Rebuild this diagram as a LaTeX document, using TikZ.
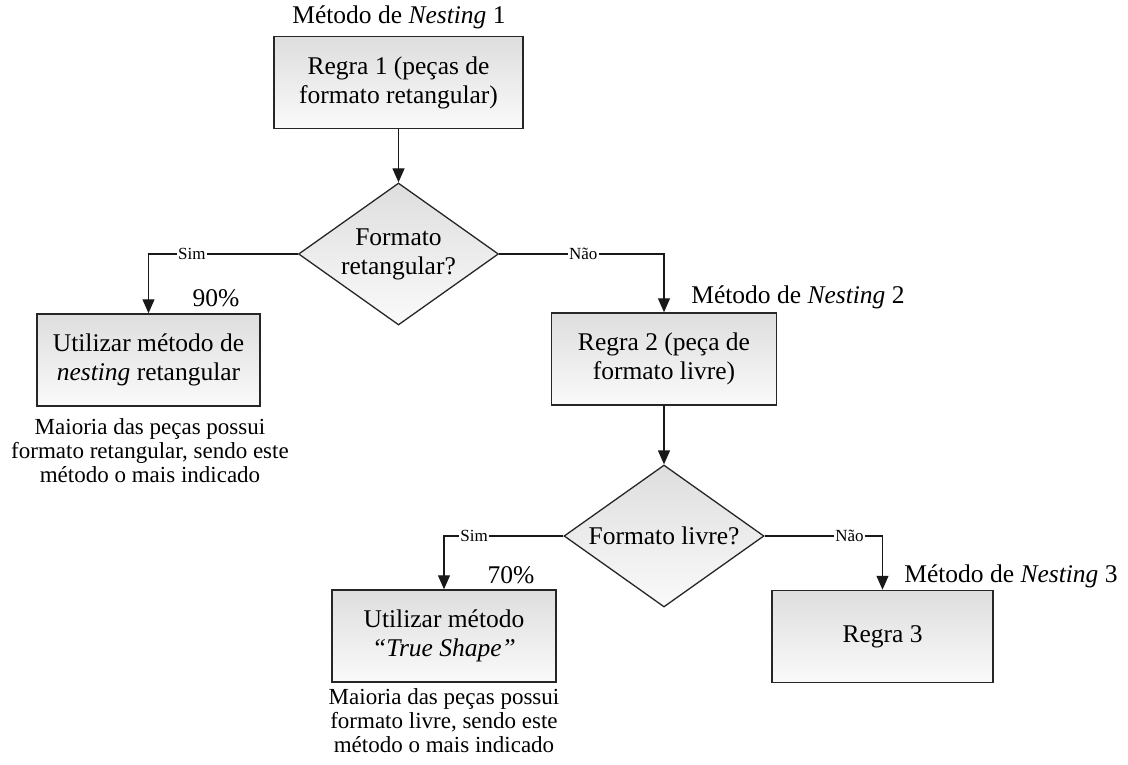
\documentclass[tikz,border=0pt]{standalone}
\usepackage{fontspec}
\setmainfont{Liberation Serif}
\usetikzlibrary{arrows.meta,shapes.geometric}
\begin{document}
\begin{tikzpicture}[x=1pt,y=-1pt,
  procbox/.style={draw=black!85, line width=1.5pt, top color=black!13, bottom color=black!2,
    minimum height=92pt, inner sep=0pt, align=center, font=\fontsize{25.5}{29}\selectfont},
  decision/.style={diamond, draw=black!85, line width=1.3pt, top color=black!13, bottom color=black!2,
    minimum width=200pt, minimum height=142pt, inner sep=0pt},
  dtext/.style={align=center, inner sep=0pt, font=\fontsize{25.5}{29}\selectfont},
  flow/.style={line width=1.3pt, draw=black!90, -{Triangle[length=14pt,width=12pt]}},
  branch/.style={fill=white, inner sep=1.5pt, font=\fontsize{17}{19}\selectfont},
  note/.style={inner sep=0pt, font=\fontsize{25.5}{29}\selectfont},
  caption/.style={align=center, inner sep=0pt, font=\fontsize{23}{24}\selectfont}
]
\useasboundingbox (0,0) rectangle (1128,765);

% rule 1
\node[note] (t1) at (399,17) {Método de \textit{Nesting} 1};
\node[procbox, minimum width=249pt] (b1) at (398.5,82.5) {Regra 1 (peças de\\formato retangular)};
\node[decision] (d1) at (398.5,254) {};
\node[dtext] (d1t) at (d1.center) {Formato\\retangular?};

% rectangular nesting
\node[procbox, minimum width=223pt] (b2) at (148.5,360) {Utilizar método de\\\textit{nesting} retangular};
\node[note] (p1) at (216,298) {90\%};
\node[caption] (c2) at (150,451) {Maioria das peças possui\\formato retangular, sendo este\\método o mais indicado};

% rule 2
\node[note] (t2) at (798,297) {Método de \textit{Nesting} 2};
\node[procbox, minimum width=225pt] (b3) at (664,359) {Regra 2 (peça de\\formato livre)};
\node[decision] (d2) at (664,536) {};
\node[dtext] (d2t) at (d2.center) {Formato livre?};

% true shape
\node[procbox, minimum width=224pt] (b4) at (444,636) {Utilizar método\\\textit{“True Shape”}};
\node[note] (p2) at (511,575) {70\%};
\node[caption] (c4) at (444,721) {Maioria das peças possui\\formato livre, sendo este\\método o mais indicado};

% rule 3
\node[note] (t3) at (1011,576) {Método de \textit{Nesting} 3};
\node[procbox, minimum width=221pt] (b5) at (882.5,636.5) {Regra 3};

% connectors
\draw[flow] (b1.south) -- (d1.north);
\draw[flow] (d1.west) -| node[branch, pos=0.355] {Sim} (b2.north);
\draw[flow] (d1.east) -| node[branch, pos=0.255] {Não} (b3.north);
\draw[flow] (b3.south) -- (d2.north);
\draw[flow] (d2.west) -| node[branch, pos=0.374] {Sim} (b4.north);
\draw[flow] (d2.east) -| node[branch, pos=0.36] {Não} (b5.north);
\end{tikzpicture}
\end{document}
